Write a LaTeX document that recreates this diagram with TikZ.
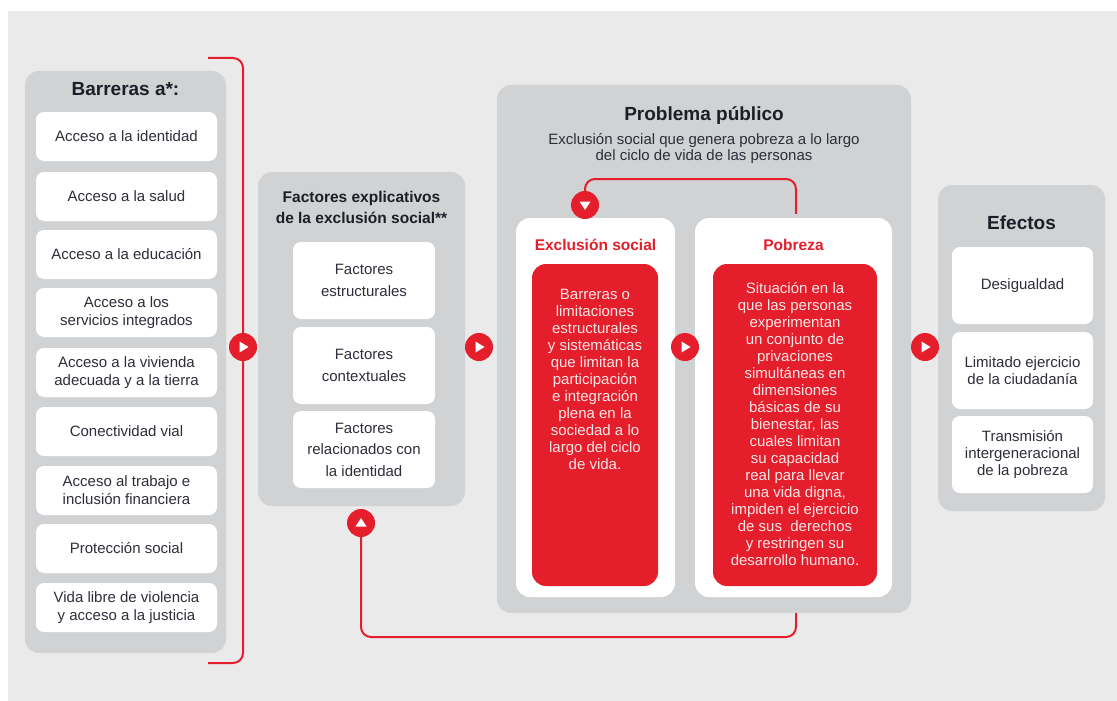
\documentclass[tikz,border=0pt]{standalone}
\usepackage{fontspec}
\setmainfont{Liberation Sans}
\usetikzlibrary{calc}
\definecolor{bggray}{HTML}{EAEAEA}
\definecolor{pgray}{HTML}{D1D2D4}
\definecolor{myred}{HTML}{E41E2B}
\definecolor{txt}{HTML}{2E2E3A}
\definecolor{ttxt}{HTML}{1E1E28}
\definecolor{rtxt}{HTML}{FDE6E7}
\begin{document}
\begin{tikzpicture}[x=1pt,y=-1pt,
  panel/.style={fill=pgray, rounded corners=14pt, inner sep=0pt},
  wbox/.style={fill=white, rounded corners=8pt, inner sep=0pt, align=center, text=txt},
  bigw/.style={fill=white, rounded corners=14pt, inner sep=0pt},
  redbox/.style={fill=myred, rounded corners=14pt, inner sep=0pt},
  ttl/.style={font=\fontsize{19}{22}\selectfont\bfseries, text=ttxt, align=center, inner sep=0pt},
  sttl/.style={font=\fontsize{15.5}{21.5}\selectfont\bfseries, text=ttxt, align=center, inner sep=0pt},
  body/.style={font=\fontsize{15}{#1}\selectfont},
  rtitle/.style={font=\fontsize{15.5}{18}\selectfont\bfseries, text=myred, inner sep=0pt},
  rbody/.style={font=\fontsize{15}{17}\selectfont, text=rtxt, align=center, inner sep=0pt},
  redline/.style={draw=myred, line width=2pt, rounded corners=10pt},
  playc/.style={circle, fill=myred, minimum size=28pt, inner sep=0pt}
]
\useasboundingbox (0,0) rectangle (1117,701);
\fill[bggray] (8,11) rectangle (1117,701);

% ---------- Barreras ----------
\node[panel, minimum width=201, minimum height=582] (barP) at (125.5,362) {};
\node[ttl] (barT) at (125.5,89) {Barreras a*:};
\tikzset{bw/.style={wbox, minimum width=181, minimum height=49, body=18}}
\node[bw] (b1) at (126.5,136.5) {Acceso a la identidad};
\node[bw] (b2) at (126.5,196.5) {Acceso a la salud};
\node[bw] (b3) at (126.5,254.5) {Acceso a la educación};
\node[bw] (b4) at (126.5,312.5) {Acceso a los\\servicios integrados};
\node[bw] (b5) at (126.5,372.5) {Acceso a la vivienda\\adecuada y a la tierra};
\node[bw] (b6) at (126.5,431.5) {Conectividad vial};
\node[bw] (b7) at (126.5,490.5) {Acceso al trabajo e\\inclusión financiera};
\node[bw] (b8) at (126.5,548.5) {Protección social};
\node[bw] (b9) at (126.5,607.5) {Vida libre de violencia\\y acceso a la justicia};

% ---------- Factores ----------
\node[panel, minimum width=207, minimum height=334] (facP) at (361.5,339) {};
\node[sttl] (facT) at (361.5,207.5) {Factores explicativos\\de la exclusión social**};
\tikzset{fw/.style={wbox, minimum width=142, minimum height=77, body=21.5}}
\node[fw] (f1) at (364,280.5) {Factores\\estructurales};
\node[fw] (f2) at (364,365.5) {Factores\\contextuales};
\node[fw] (f3) at (364,449.5) {Factores\\relacionados con\\la identidad};

% ---------- Problema publico ----------
\node[panel, minimum width=414, minimum height=528] (proP) at (704,349) {};
\node[ttl] (proT) at (704,116) {Problema público};
\node[body=16, text=txt, align=center, inner sep=0pt] (proS) at (704,149) {Exclusión social que genera pobreza a lo largo\\del ciclo de vida de las personas};

\node[bigw, minimum width=159, minimum height=379] (excW) at (595.5,407.5) {};
\node[rtitle] (excT) at (595.5,245) {Exclusión social};
\node[redbox, minimum width=126, minimum height=322] (excR) at (595,425) {};
\node[rbody] (excX) at (595,379) {Barreras o\\limitaciones\\estructurales\\y sistemáticas\\que limitan la\\participación\\e integración\\plena en la\\sociedad a lo\\largo del ciclo\\de vida.};

\node[bigw, minimum width=197, minimum height=379] (pobW) at (793.5,407.5) {};
\node[rtitle] (pobT) at (793.5,245) {Pobreza};
\node[redbox, minimum width=164, minimum height=322] (pobR) at (795,425) {};
\node[rbody] (pobX) at (795,424.5) {Situación en la\\que las personas\\experimentan\\un conjunto de\\privaciones\\simultáneas en\\dimensiones\\básicas de su\\bienestar, las\\cuales limitan\\su capacidad\\real para llevar\\una vida digna,\\impiden el ejercicio\\de sus\ \ derechos\\y restringen su\\desarrollo humano.};

% ---------- Efectos ----------
\node[panel, minimum width=167, minimum height=326] (efeP) at (1021.5,348) {};
\node[ttl] (efeT) at (1021.5,223) {Efectos};
\tikzset{ew/.style={wbox, minimum width=141, minimum height=77, body=17}}
\node[ew] (e1) at (1022.5,285.5) {Desigualdad};
\node[ew] (e2) at (1022.5,370.5) {Limitado ejercicio\\de la ciudadanía};
\node[ew] (e3) at (1022.5,454.5) {Transmisión\\intergeneracional\\de la pobreza};

% ---------- connectors ----------
\coordinate (brA) at (208,58);
\coordinate (brB) at (243,58);
\coordinate (brC) at (243,663);
\coordinate (brD) at (208,663);
\draw[redline] (brA) -- (brB) -- (brC) -- (brD);

\node[playc] (c1) at (243,347) {};
\node[playc] (c2) at (479,347) {};
\node[playc] (c3) at (685,347) {};
\node[playc] (c4) at (925,347) {};
\node[playc] (c5) at (585,205) {};
\node[playc] (c6) at (361,523) {};

\coordinate (tl1) at ($(pobW.north)+(2.5,-4)$);
\coordinate (tl2) at (796,179);
\coordinate (tl3) at (585,179);
\draw[redline] (tl1) -- (tl2) -- (tl3) -- (c5);

\coordinate (bl1) at (796,613);
\coordinate (bl2) at (796,637);
\coordinate (bl3) at (361,637);
\draw[redline] (bl1) -- (bl2) -- (bl3) -- (c6);

\foreach \c in {c1,c2,c3,c4}{
  \fill[white] ($(\c)+(-3.5,-5.5)$) -- ($(\c)+(-3.5,5.5)$) -- ($(\c)+(5.5,0)$) -- cycle;
}
\fill[white] ($(c5)+(-5.5,-3.5)$) -- ($(c5)+(5.5,-3.5)$) -- ($(c5)+(0,5)$) -- cycle;
\fill[white] ($(c6)+(-5.5,3.5)$) -- ($(c6)+(5.5,3.5)$) -- ($(c6)+(0,-5)$) -- cycle;
\end{tikzpicture}
\end{document}
